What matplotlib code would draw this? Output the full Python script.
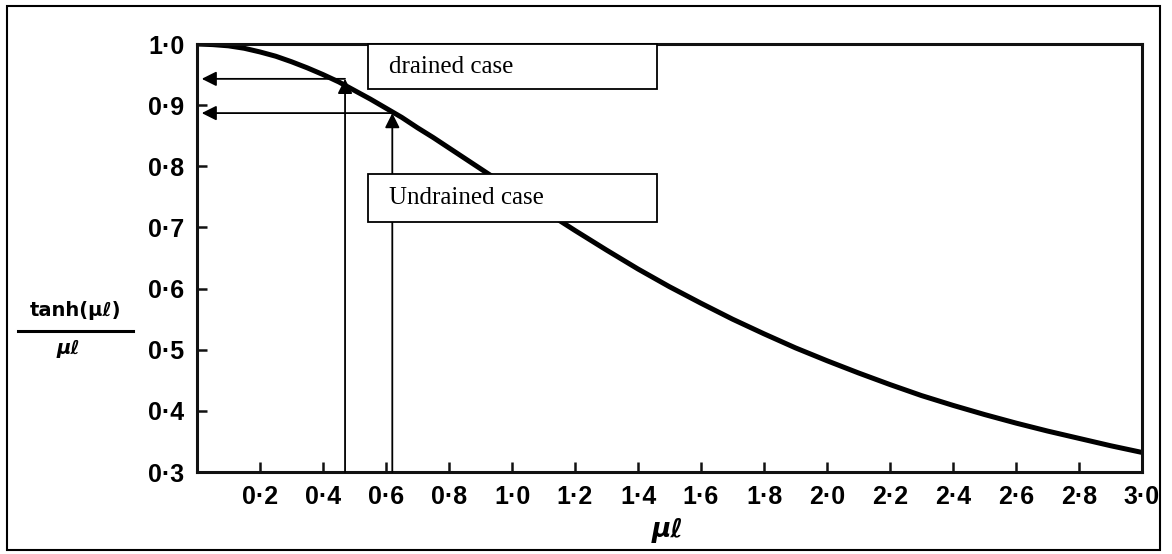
import matplotlib
matplotlib.use('Agg')
import matplotlib.pyplot as plt
from matplotlib.patches import Rectangle
from matplotlib.lines import Line2D

# tanh(mu*l)/(mu*l) (finer steps where it bends most)
mu_l = [0.0, 0.05, 0.1, 0.15, 0.2, 0.25, 0.3, 0.35, 0.4, 0.45, 0.5,
        0.55, 0.6, 0.65, 0.7, 0.75, 0.8, 0.85, 0.9, 0.95, 1.0,
        1.1, 1.2, 1.3, 1.4, 1.5, 1.6, 1.7, 1.8, 1.9, 2.0,
        2.1, 2.2, 2.3, 2.4, 2.5, 2.6, 2.7, 2.8, 2.9, 3.0]
ratio = [1.000, 0.999, 0.997, 0.993, 0.987, 0.980, 0.971, 0.961, 0.950, 0.938, 0.924,
         0.910, 0.895, 0.880, 0.863, 0.847, 0.830, 0.813, 0.796, 0.779, 0.762,
         0.728, 0.695, 0.663, 0.632, 0.603, 0.576, 0.550, 0.526, 0.503, 0.482,
         0.462, 0.443, 0.425, 0.409, 0.394, 0.380, 0.367, 0.355, 0.343, 0.332]

x_ticks = [0.2, 0.4, 0.6, 0.8, 1.0, 1.2, 1.4, 1.6, 1.8, 2.0, 2.2, 2.4, 2.6, 2.8, 3.0]
x_tick_labels = ['0·2', '0·4', '0·6', '0·8', '1·0', '1·2', '1·4', '1·6',
                 '1·8', '2·0', '2·2', '2·4', '2·6', '2·8', '3·0']
y_ticks = [0.3, 0.4, 0.5, 0.6, 0.7, 0.8, 0.9, 1.0]
y_tick_labels = ['0·3', '0·4', '0·5', '0·6', '0·7', '0·8', '0·9', '1·0']

# the two cases marked on the curve
case_names = ['drained case', 'Undrained case']
case_mu_l = [0.47, 0.62]
case_ratio = [0.943, 0.887]

W, H = 1172, 554
fig = plt.figure(figsize=(W / 100, H / 100), dpi=100)
ax = fig.add_axes([197 / W, 1 - 472 / H, 945 / W, 428 / H])

ax.plot(mu_l, ratio, color='black', lw=3.6, solid_capstyle='round',
        solid_joinstyle='round', zorder=2)

ax.set_xlim(0, 3.0)
ax.set_ylim(0.3, 1.0)
for s in ax.spines.values():
    s.set_linewidth(2.2)
    s.set_color('#111111')

tick_font = dict(family='Liberation Sans', weight='bold', size=18)
ax.set_xticks(x_ticks)
ax.set_xticklabels(x_tick_labels, fontdict=tick_font)
ax.set_yticks(y_ticks)
ax.set_yticklabels(y_tick_labels, fontdict=tick_font)
ax.tick_params(direction='in', length=7, width=1.8, color='#111111', pad=9)

# arrows from the x axis up to the curve, then across to the y axis
arrow = dict(arrowstyle='-|>', color='black', lw=1.3, mutation_scale=22,
             shrinkA=0, shrinkB=0)
for x, y in zip(case_mu_l, case_ratio):
    ax.annotate('', xy=(x, y), xytext=(x, 0.3), arrowprops=arrow, zorder=3,
                annotation_clip=False)
    ax.annotate('', xy=(0.015, y), xytext=(x, y), arrowprops=arrow, zorder=3)

# label boxes
box_y = [0.926, 0.709]
box_h = [0.074, 0.078]
for name, y0, h in zip(case_names, box_y, box_h):
    ax.add_patch(Rectangle((0.543, y0), 0.917, h, facecolor='white',
                           edgecolor='black', lw=1.3, zorder=5, clip_on=False))
    ax.text(0.61, y0 + h / 2, name, family='Liberation Serif', size=18,
            va='center', ha='left', zorder=6)

# axis titles
fig.text(668 / W, 1 - 530 / H, 'μℓ', family='DejaVu Sans', weight='bold',
         style='italic', size=19, ha='center', va='center')
fig.text(75 / W, 1 - 310 / H, 'tanh(μℓ)', family='DejaVu Sans', weight='bold',
         size=14, ha='center', va='center')
fig.lines.append(Line2D([18 / W, 133 / W], [1 - 331 / H, 1 - 331 / H],
                        transform=fig.transFigure, color='black', lw=2.2))
fig.text(68 / W, 1 - 349 / H, 'μℓ', family='DejaVu Sans', weight='bold',
         style='italic', size=14, ha='center', va='center')

# outer frame
fig.patches.append(Rectangle((7 / W, 1 - 550 / H), 1153 / W, 544 / H,
                             transform=fig.transFigure, fill=False,
                             edgecolor='black', lw=1.5))

fig.savefig('out.png', dpi=100)
